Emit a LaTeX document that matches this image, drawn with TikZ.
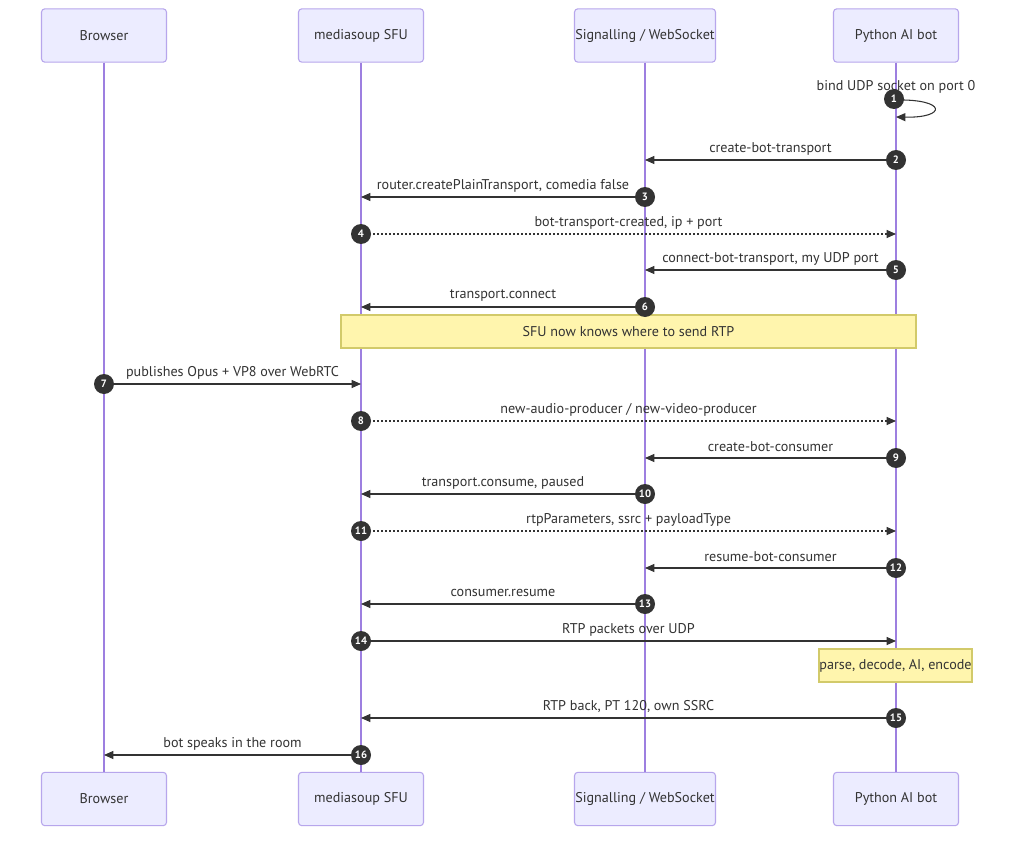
\documentclass[tikz,border=0pt]{standalone}
\usepackage{fontspec}
\setmainfont{PT Sans}
\usetikzlibrary{arrows.meta}
\definecolor{actfill}{HTML}{ECECFF}
\definecolor{actborder}{HTML}{B7A6EC}
\definecolor{lifeln}{HTML}{9D7FE0}
\definecolor{notefill}{HTML}{FFF5AD}
\definecolor{noteborder}{HTML}{D2CA6A}
\definecolor{ink}{HTML}{333333}
\newcommand\mymsg[6]{%
  \coordinate (s#1) at (#2,#4);
  \coordinate (e#1) at (#3,#4);
  \draw[msgline,#6] (s#1) -- (e#1);
  \node[msglabel] (l#1) at ({(#2+#3)/2},#4-11) {#5};
  \node[numcirc] (n#1) at (s#1) {#1};
}
\begin{document}
\begin{tikzpicture}[x=0.75pt,y=-0.75pt,
  actor/.style={draw=actborder,fill=actfill,rounded corners=2.5pt,minimum width=93.75pt,minimum height=40pt,inner sep=0pt,font=\fontsize{10.6}{12}\selectfont,text=ink,line width=0.8pt},
  lifeline/.style={draw=lifeln,line width=0.9pt},
  msgline/.style={draw=ink,line width=0.8pt,-{Triangle[length=7pt,width=6pt]}},
  dotline/.style={dash pattern=on 1.5pt off 1.5pt},
  msglabel/.style={text=ink,font=\fontsize{10.6}{12}\selectfont,inner sep=0pt},
  numcirc/.style={circle,fill=ink,minimum size=15pt,inner sep=0pt,text=white,font=\fontsize{8}{9}\selectfont\bfseries},
  note/.style={draw=noteborder,fill=notefill,line width=0.8pt,inner sep=0pt,font=\fontsize{10.6}{12}\selectfont,text=ink}]
\useasboundingbox[fill=white] (0,0) rectangle (1024,845);
% participants
\foreach \n/\x/\w/\t in {a/104/125/Browser,b/361/125/mediasoup SFU,c/645/141/{Signalling / WebSocket},d/896/125/Python AI bot}{
  \node[actor,minimum width=\w*0.75pt] (\n top) at (\x,35.5) {\t};
  \node[actor,minimum width=\w*0.75pt] (\n bot) at (\x,799) {\t};
  \draw[lifeline] (\n top.south) -- (\n bot.north);
}
% note 1
\node[note,minimum width=431.25pt,minimum height=24.75pt] (note1) at (628.5,331.5) {SFU now knows where to send RTP};
% self loop 1
\coordinate (s1) at (896,100);
\coordinate (e1) at (896,117);
\draw[msgline] (s1) .. controls (947,99) and (947,118) .. (e1);
\node[msglabel] (l1) at (896,87) {bind UDP socket on port 0};
\node[numcirc] (n1) at (894,99) {1};
\mymsg{2}{896}{645}{160}{create-bot-transport}{}
\mymsg{3}{645}{361}{197}{router.createPlainTransport, comedia false}{}
\mymsg{4}{361}{896}{234}{bot-transport-created, ip + port}{dotline}
\mymsg{5}{896}{645}{270}{connect-bot-transport, my UDP port}{}
\mymsg{6}{645}{361}{307}{transport.connect}{}
\mymsg{7}{104}{361}{384}{publishes Opus + VP8 over WebRTC}{}
\mymsg{8}{361}{896}{421}{new-audio-producer / new-video-producer}{dotline}
\mymsg{9}{896}{645}{458}{create-bot-consumer}{}
\mymsg{10}{645}{361}{494}{transport.consume, paused}{}
\mymsg{11}{361}{896}{531}{rtpParameters, ssrc + payloadType}{dotline}
\mymsg{12}{896}{645}{568}{resume-bot-consumer}{}
\mymsg{13}{645}{361}{604}{consumer.resume}{}
\mymsg{14}{361}{896}{641}{RTP packets over UDP}{}
\node[note,minimum width=114.75pt,minimum height=24.75pt] (note2) at (895.5,665.5) {parse, decode, AI, encode};
\mymsg{15}{896}{361}{718}{RTP back, PT 120, own SSRC}{}
\mymsg{16}{361}{104}{755}{bot speaks in the room}{}
\end{tikzpicture}
\end{document}
